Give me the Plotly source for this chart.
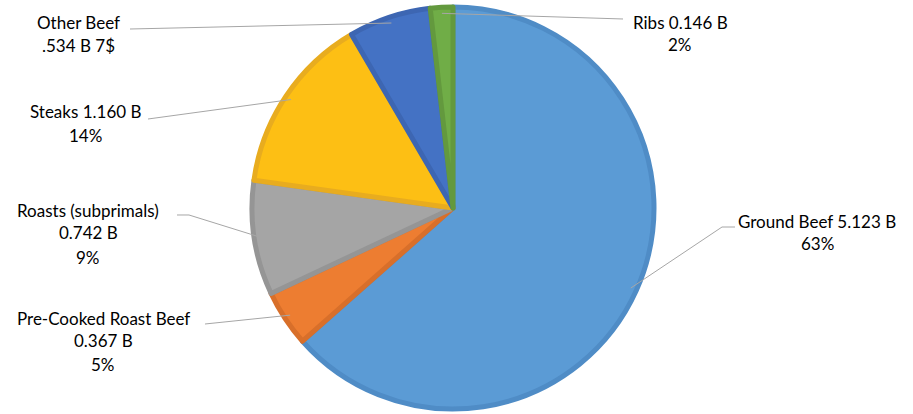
import math
import plotly.graph_objects as go

# ---- data ----
categories = ["Ground Beef", "Pre-Cooked Roast Beef", "Roasts (subprimals)", "Steaks", "Other Beef", "Ribs"]
values = [5.123, 0.367, 0.742, 1.160, 0.534, 0.146]
label_lines = [
    ["Ground Beef 5.123 B", "63%"],
    ["Pre-Cooked Roast Beef", "0.367 B", "5%"],
    ["Roasts (subprimals)", "0.742 B", "9%"],
    ["Steaks 1.160 B", "14%"],
    ["Other Beef", ".534 B 7$"],
    ["Ribs 0.146 B", "2%"],
]
colors = ["#5B9BD5", "#ED7D31", "#A5A5A5", "#FDBF14", "#4472C4", "#70AD47"]
borders = ["#4F8CC6", "#D86F2A", "#959595", "#E8AC1F", "#3D66B2", "#63993E"]

# ---- layout (pixels) ----
W, H = 913, 414
CX, CY, R = 453, 208, 201

# label text positions: (center x, first line y, line gaps)
label_pos = [
    (817, 221, [22]),
    (103, 318, [22, 24]),
    (88, 210, [22, 25]),
    (85, 112, [23]),
    (78, 22, [23]),
    (680, 22, [22]),
]
# leader line start near label, optional elbow
leader_start = [
    [(735, 227), (722, 227)],
    [(205, 324)],
    [(177, 215), (189, 215)],
    [(148, 119)],
    [(130, 29)],
    [(623, 19)],
]

def px(x):
    return x / W

def py(y):
    return 1 - y / H

dom = dict(x=[px(CX - R), px(CX + R)], y=[py(CY + R), py(CY - R)])

fig = go.Figure()
fig.add_trace(go.Pie(
    labels=categories,
    values=values,
    sort=False,
    direction="clockwise",
    rotation=0,
    textinfo="none",
    hoverinfo="none",
    showlegend=False,
    marker=dict(colors=colors, line=dict(color=borders, width=5)),
    domain=dom,
))

total = sum(values)
cum = 0.0
annotations = []
shapes = []
for i, v in enumerate(values):
    mid = (cum + v / 2) / total
    cum += v
    ang = mid * 2 * math.pi
    ex = CX + math.sin(ang) * R * 0.97
    ey = CY - math.cos(ang) * R * 0.97
    pts = leader_start[i] + [(ex, ey)]
    path = "M " + " L ".join(f"{px(x):.5f},{py(y):.5f}" for x, y in pts)
    shapes.append(dict(type="path", path=path, xref="paper", yref="paper",
                       line=dict(color="#A6A6A6", width=1)))
    lx, ly, gaps = label_pos[i]
    yy = ly
    for j, t in enumerate(label_lines[i]):
        annotations.append(dict(text=t, x=px(lx), y=py(yy), xref="paper", yref="paper",
                                showarrow=False, xanchor="center", yanchor="middle",
                                font=dict(family="Lato", size=17, color="#000000")))
        if j < len(gaps):
            yy += gaps[j]

fig.update_layout(
    width=W, height=H,
    margin=dict(l=0, r=0, t=0, b=0),
    paper_bgcolor="white",
    plot_bgcolor="white",
    annotations=annotations,
    shapes=shapes,
)

fig.write_html("out.html", config={"displayModeBar": False},
               post_script="document.body.style.margin='0';document.body.style.overflow='hidden';")
